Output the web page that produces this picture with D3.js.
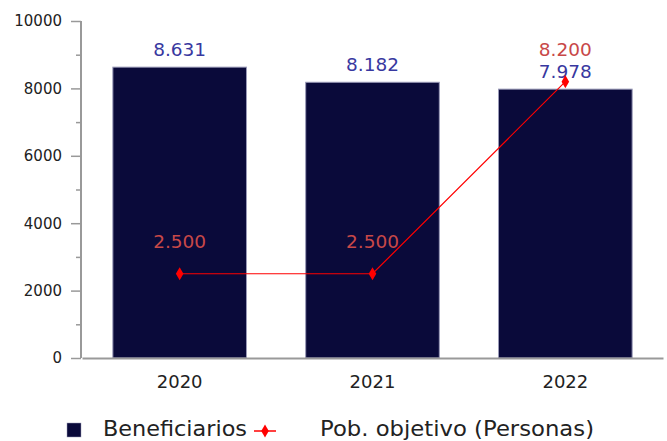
<!DOCTYPE html>
<html>
<head>
<meta charset="utf-8">
<script src="https://cdn.jsdelivr.net/npm/d3@7"></script>
<style>
  body { margin: 0; background: #fff; }
  svg text { font-family: "DejaVu Sans", sans-serif; }
</style>
</head>
<body>
<div id="chart"></div>
<script>
// data
const years = ["2020", "2021", "2022"];
const beneficiarios = [8631, 8182, 7978];
const poblacion = [2500, 2500, 8200];
const yTicks = [0, 2000, 4000, 6000, 8000, 10000];
const yMinor = [1000, 3000, 5000, 7000, 9000];

const fmt = d3.format(",")
const fmtEs = v => fmt(v).replace(/,/g, ".");

// set the dimensions and margins of the graph
const margin = {top: 21, right: 4, bottom: 83, left: 81},
    width = 667 - margin.left - margin.right,
    height = 441 - margin.top - margin.bottom;

const svg = d3.select("#chart")
  .append("svg")
    .attr("width", 667)
    .attr("height", 441)
  .append("g")
    .attr("transform", "translate(" + margin.left + "," + margin.top + ")");

const x = d3.scaleBand()
    .domain(years)
    .range([1, width])
    .paddingInner(0.307)
    .paddingOuter(0.16);

const y = d3.scaleLinear()
    .domain([0, 10000])
    .range([height, 0]);

// bars
svg.selectAll("rect.bar")
  .data(years)
  .enter()
  .append("rect")
    .attr("class", "bar")
    .attr("x", d => x(d))
    .attr("width", x.bandwidth())
    .attr("y", (d, i) => y(beneficiarios[i]))
    .attr("height", (d, i) => height - y(beneficiarios[i]))
    .style("fill", "#0a0a3a")
    .style("stroke", "#9a9ab8")
    .style("stroke-width", 1);

// Y axis
const yAxis = svg.append("g")
    .call(d3.axisLeft(y).tickValues(yTicks).tickFormat(d3.format("d")).tickSize(10).tickPadding(9));
yAxis.selectAll("text").style("font-size", "15px").style("fill", "#222");
yAxis.selectAll("line").style("stroke", "#999").style("stroke-width", 1.5);
yAxis.select(".domain").remove();

const yMinorAxis = svg.append("g")
    .call(d3.axisLeft(y).tickValues(yMinor).tickFormat("").tickSize(5));
yMinorAxis.selectAll("line").style("stroke", "#999").style("stroke-width", 1.5);
yMinorAxis.select(".domain").remove();

svg.append("line")
    .attr("x1", 0).attr("x2", 0)
    .attr("y1", y(10000)).attr("y2", height)
    .style("stroke", "#999").style("stroke-width", 2);

// X axis
const xAxis = svg.append("g")
    .attr("transform", "translate(0," + height + ")")
    .call(d3.axisBottom(x).tickSize(0).tickPadding(17));
xAxis.selectAll("text").style("font-size", "18px").style("fill", "#222");
xAxis.select(".domain").style("stroke", "#999").style("stroke-width", 2);

// bar value labels
svg.selectAll("text.blab")
  .data(years)
  .enter()
  .append("text")
    .attr("class", "blab")
    .attr("x", d => x(d) + x.bandwidth() / 2)
    .attr("y", (d, i) => y(beneficiarios[i]) - 11)
    .attr("text-anchor", "middle")
    .style("font-size", "18.5px")
    .style("fill", "#3838a0")
    .text((d, i) => fmtEs(beneficiarios[i]));

// line
const line = d3.line()
    .x((d, i) => x(years[i]) + x.bandwidth() / 2)
    .y(d => y(d));

svg.append("path")
    .datum(poblacion)
    .attr("d", line)
    .style("fill", "none")
    .style("stroke", "#ff0000")
    .style("stroke-width", 1.2);

const diamond = d3.symbol().type(d3.symbolDiamond).size(50);
svg.selectAll("path.pt")
  .data(poblacion)
  .enter()
  .append("path")
    .attr("class", "pt")
    .attr("d", diamond)
    .attr("transform", (d, i) => "translate(" + (x(years[i]) + x.bandwidth() / 2) + "," + y(d) + ")")
    .style("fill", "#ff0000");

svg.selectAll("text.plab")
  .data(poblacion)
  .enter()
  .append("text")
    .attr("class", "plab")
    .attr("x", (d, i) => x(years[i]) + x.bandwidth() / 2)
    .attr("y", d => y(d) - 26)
    .attr("text-anchor", "middle")
    .style("font-size", "18.5px")
    .style("fill", "#c84848")
    .text(d => fmtEs(d));

// legend
const legend = d3.select("svg").append("g").attr("transform", "translate(0,436)");
legend.append("rect")
    .attr("x", 67).attr("y", -13).attr("width", 14).attr("height", 14)
    .style("fill", "#0a0a3a").style("stroke", "#9a9ab8").style("stroke-width", 0.5);
legend.append("text")
    .attr("x", 103).attr("y", 0)
    .attr("textLength", 144).attr("lengthAdjust", "spacingAndGlyphs")
    .style("font-size", "22px").style("fill", "#222")
    .text("Beneficiarios");
legend.append("line")
    .attr("x1", 254).attr("x2", 276).attr("y1", -5).attr("y2", -5)
    .style("stroke", "#ff0000").style("stroke-width", 1.5);
legend.append("path")
    .attr("d", diamond)
    .attr("transform", "translate(265,-5)")
    .style("fill", "#ff0000");
legend.append("text")
    .attr("x", 320).attr("y", 0)
    .attr("textLength", 274).attr("lengthAdjust", "spacingAndGlyphs")
    .style("font-size", "22px").style("fill", "#222")
    .text("Pob. objetivo (Personas)");
</script>
</body>
</html>
